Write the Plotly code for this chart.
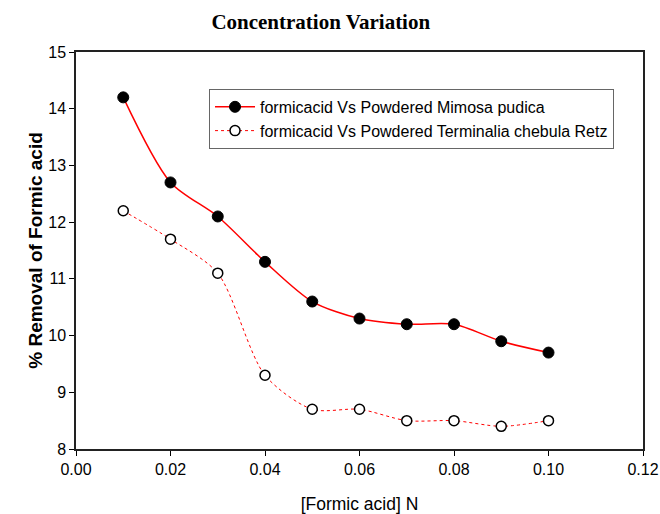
import plotly.graph_objects as go

x_vals = [0.01, 0.02, 0.03, 0.04, 0.05, 0.06, 0.07, 0.08, 0.09, 0.10]
mimosa = [14.2, 12.7, 12.1, 11.3, 10.6, 10.3, 10.2, 10.2, 9.9, 9.7]
terminalia = [12.2, 11.7, 11.1, 9.3, 8.7, 8.7, 8.5, 8.5, 8.4, 8.5]
x_ticks = [0, 0.02, 0.04, 0.06, 0.08, 0.10, 0.12]
x_tick_text = ["0.00", "0.02", "0.04", "0.06", "0.08", "0.10", "0.12"]
name1 = "formicacid Vs Powdered Mimosa pudica"
name2 = "formicacid Vs Powdered Terminalia chebula Retz"

fig = go.Figure()
fig.add_trace(go.Scatter(
    x=x_vals, y=mimosa, name=name1, mode="lines+markers",
    line=dict(color="red", width=1.5, shape="spline", smoothing=0.8),
    marker=dict(symbol="circle", size=11, color="black", line=dict(color="black", width=1)),
))
fig.add_trace(go.Scatter(
    x=x_vals, y=terminalia, name=name2, mode="lines+markers",
    line=dict(color="red", width=1, dash="dot", shape="spline", smoothing=0.8),
    marker=dict(symbol="circle", size=10, color="white", line=dict(color="black", width=1.5)),
))

sans = "Liberation Sans, Arial"
tick_font = dict(family=sans, size=16, color="black")
fig.update_layout(
    width=660, height=514,
    margin=dict(l=76, r=17, t=52, b=65, autoexpand=False),
    paper_bgcolor="white", plot_bgcolor="white",
    title=dict(text="<b>Concentration Variation</b>", x=0.486, xanchor="center", y=0.957, yanchor="middle",
               xref="container", yref="container", automargin=False,
               font=dict(family="Liberation Serif, Times New Roman", size=21, color="black")),
    xaxis=dict(range=[0, 0.12], tickvals=x_ticks, ticktext=x_tick_text, automargin=False,
               showline=True, mirror=True, linecolor="#222222", linewidth=1.5, ticks="outside", ticklen=5,
               tickcolor="black", showgrid=False, zeroline=False, tickfont=tick_font,
               title=dict(text="[Formic acid] N", font=dict(family=sans, size=17.5, color="black"), standoff=21)),
    yaxis=dict(range=[8, 15], dtick=1, showline=True, mirror=True, linecolor="#222222", linewidth=1.5,
               ticks="outside", ticklen=5, tickcolor="black", showgrid=False, zeroline=False,
               tickfont=tick_font, automargin=False,
               title=dict(text="<b>% Removal of Formic acid</b>", font=dict(family=sans, size=19, color="black"), standoff=1)),
    legend=dict(x=0.2346, y=0.907, xanchor="left", yanchor="top", bordercolor="#666666", borderwidth=1,
                bgcolor="white", font=dict(family=sans, size=16, color="black"),
                tracegroupgap=0, itemwidth=40),
    showlegend=True,
)
fig.write_html("out.html", config={"displayModeBar": False},
               post_script="document.body.style.margin='0px';")
